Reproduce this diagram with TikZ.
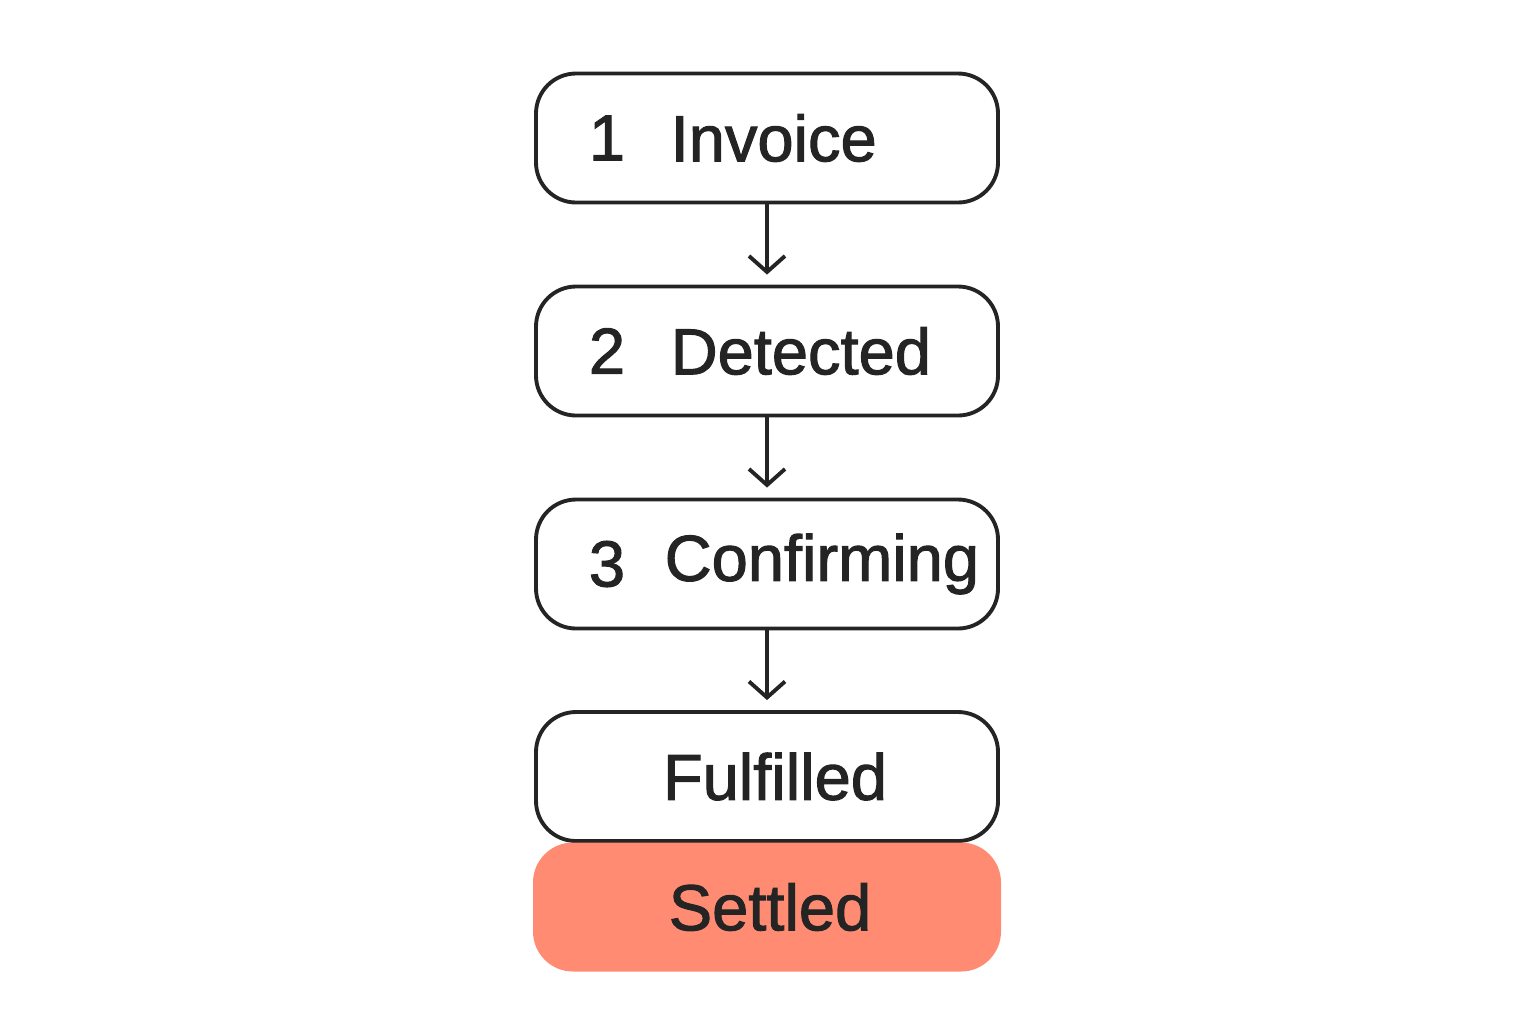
\documentclass[tikz,border=0pt]{standalone}
\usepackage{fontspec}
\setmainfont{Liberation Sans}[FakeBold=1.6]
\newfontfamily\stagefont{Liberation Sans}[UprightFont=*, BoldFont=*, UprightFeatures={FakeBold=1.6}]
\usetikzlibrary{arrows.meta}
\definecolor{ink}{HTML}{242424}
\definecolor{settledfill}{HTML}{FF8C72}
\newcommand\boxW{4.62}
\newcommand\boxH{1.29}
\newcommand\midX{7.67}
\tikzset{
  stagebox/.style={draw=ink, line width=1.1pt, rounded corners=0.4cm, minimum width=\boxW cm, minimum height=\boxH cm},
  endbox/.style={fill=settledfill, rounded corners=0.4cm, minimum width=4.68cm, minimum height=\boxH cm},
  stagetext/.style={text=ink, font=\stagefont\fontsize{18.5}{22}\selectfont, inner sep=0pt},
  flow/.style={draw=ink, line width=1.1pt, -{Straight Barb[length=0.16cm, width=0.36cm, line width=1.1pt]}, shorten >=0.1cm}
}
\begin{document}
\begin{tikzpicture}
  \useasboundingbox (0,0) rectangle (15.36,-10.24);

  % stages
  \node[stagebox] (invoice) at (\midX,-1.38) {};
  \node[stagebox] (detected) at (\midX,-3.51) {};
  \node[stagebox] (confirming) at (\midX,-5.64) {};
  \node[stagebox] (fulfilled) at (\midX,-7.765) {};
  \node[endbox] (settled) at (\midX,-9.07) {};

  % labels
  \node[stagetext] (n1) at (6.07,-1.38) {1};
  \node[stagetext, anchor=west] (t1) at (6.70,-1.38) {Invoice};
  \node[stagetext] (n2) at (6.07,-3.51) {2};
  \node[stagetext, anchor=west] (t2) at (6.70,-3.51) {Detected};
  \node[stagetext] (n3) at (6.07,-5.64) {3};
  \node[stagetext, anchor=west] (t3) at (6.64,-5.64) {Confirming};
  \node[stagetext] (t4) at (7.75,-7.765) {Fulfilled};
  \node[stagetext] (t5) at (7.70,-9.07) {Settled};

  % arrows
  \draw[flow] (invoice) -- (detected);
  \draw[flow] (detected) -- (confirming);
  \draw[flow] (confirming) -- (fulfilled);
\end{tikzpicture}
\end{document}
